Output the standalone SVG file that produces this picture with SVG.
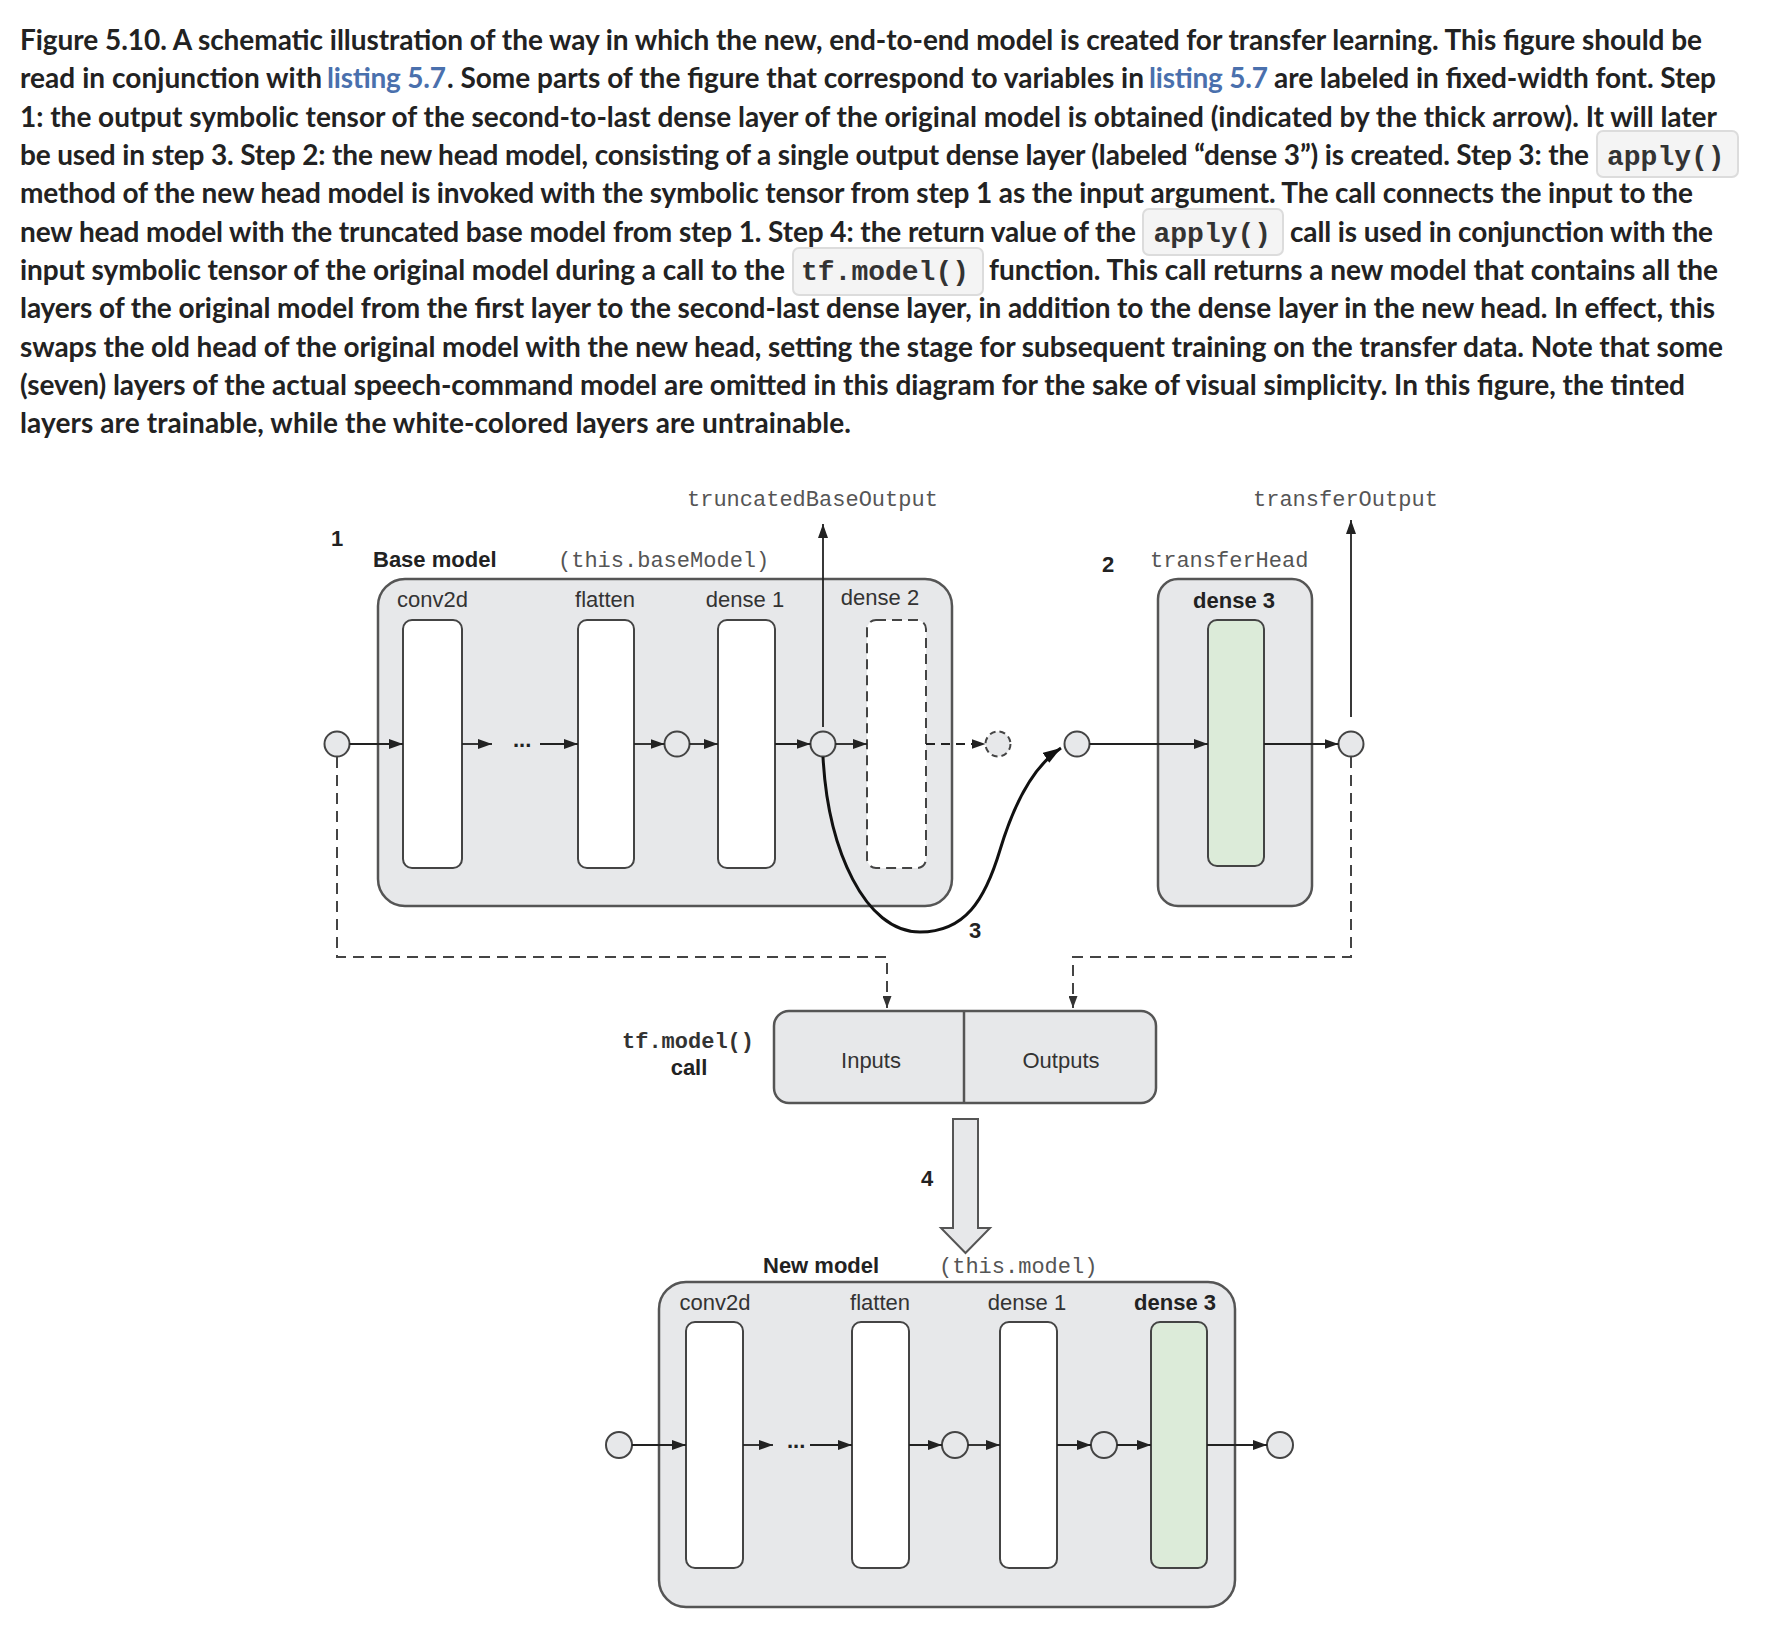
<svg xmlns="http://www.w3.org/2000/svg" width="1766" height="1642" viewBox="0 0 1766 1642">
<style>
.cap{font-family:Lato,"Liberation Sans",sans-serif;font-weight:700;font-size:28px;fill:#222}
.link{fill:#4a70ad}
.code{font-family:"Liberation Mono","Courier New",monospace;font-weight:700;font-size:28px;fill:#333}
.codebox{fill:#f4f4f4;stroke:#dcdcdc;stroke-width:2}
.lbl{font-family:"Liberation Sans",Arial,sans-serif;font-size:22px;fill:#333}
.bold{font-family:"Liberation Sans",Arial,sans-serif;font-size:22px;font-weight:700;fill:#222}
.mono{font-family:"Liberation Mono","Courier New",monospace;font-size:22px;fill:#555}
.monob{font-family:"Liberation Mono","Courier New",monospace;font-size:22px;font-weight:700;fill:#333}
.box{fill:#e7e8ea;stroke:#555;stroke-width:2.5}
.layer{fill:#fff;stroke:#444;stroke-width:2}
.green{fill:#dcebd9;stroke:#444;stroke-width:2}
.node{fill:#e7e8ea;stroke:#444;stroke-width:2}
.ln{fill:none;stroke:#222;stroke-width:1.8}
.dash{fill:none;stroke:#444;stroke-width:2;stroke-dasharray:11 7}
.thick{fill:none;stroke:#111;stroke-width:3}
</style>
<defs>
<marker id="ah" viewBox="0 0 14 10" refX="14" refY="5" markerWidth="14" markerHeight="10" markerUnits="userSpaceOnUse" orient="auto"><path d="M0,0L14,5L0,10z" fill="#222"/></marker>
<marker id="ahs" viewBox="0 0 12 9" refX="12" refY="4.5" markerWidth="12" markerHeight="9" markerUnits="userSpaceOnUse" orient="auto"><path d="M0,0L12,4.5L0,9z" fill="#333"/></marker>
<marker id="ahb" viewBox="0 0 18 12" refX="18" refY="6" markerWidth="18" markerHeight="12" markerUnits="userSpaceOnUse" orient="auto"><path d="M0,0L18,6L0,12z" fill="#111"/></marker>
</defs>
<rect width="1766" height="1642" fill="#fff"/>

<g id="caption">
<text class="cap" x="20" y="50" textLength="1682" lengthAdjust="spacing">Figure 5.10. A schematic illustration of the way in which the new, end-to-end model is created for transfer learning. This figure should be</text>
<text class="cap" x="20" y="88.3" textLength="302" lengthAdjust="spacing">read in conjunction with</text>
<text class="cap link" x="327" y="88.3" textLength="119" lengthAdjust="spacing">listing 5.7</text>
<text class="cap" x="447" y="88.3" textLength="697" lengthAdjust="spacing">. Some parts of the figure that correspond to variables in</text>
<text class="cap link" x="1149" y="88.3" textLength="119" lengthAdjust="spacing">listing 5.7</text>
<text class="cap" x="1274" y="88.3" textLength="442" lengthAdjust="spacing">are labeled in fixed-width font. Step</text>
<text class="cap" x="20" y="126.7" textLength="1697" lengthAdjust="spacing">1: the output symbolic tensor of the second-to-last dense layer of the original model is obtained (indicated by the thick arrow). It will later</text>
<text class="cap" x="20" y="165" textLength="1569" lengthAdjust="spacing">be used in step 3. Step 2: the new head model, consisting of a single output dense layer (labeled “dense 3”) is created. Step 3: the</text>
<rect class="codebox" x="1597" y="131" width="141" height="46" rx="6"/>
<text class="code" x="1607" y="165">apply()</text>
<text class="cap" x="20" y="203.3" textLength="1673" lengthAdjust="spacing">method of the new head model is invoked with the symbolic tensor from step 1 as the input argument. The call connects the input to the</text>
<text class="cap" x="20" y="241.7" textLength="1116" lengthAdjust="spacing">new head model with the truncated base model from step 1. Step 4: the return value of the</text>
<rect class="codebox" x="1143" y="209" width="140" height="46" rx="6"/>
<text class="code" x="1153.5" y="241.7">apply()</text>
<text class="cap" x="1290" y="241.7" textLength="423" lengthAdjust="spacing">call is used in conjunction with the</text>
<text class="cap" x="20" y="280" textLength="765" lengthAdjust="spacing">input symbolic tensor of the original model during a call to the</text>
<rect class="codebox" x="793" y="248" width="190" height="47" rx="6"/>
<text class="code" x="801" y="280">tf.model()</text>
<text class="cap" x="989" y="280" textLength="729" lengthAdjust="spacing">function. This call returns a new model that contains all the</text>
<text class="cap" x="20" y="318.3" textLength="1695" lengthAdjust="spacing">layers of the original model from the first layer to the second-last dense layer, in addition to the dense layer in the new head. In effect, this</text>
<text class="cap" x="20" y="356.7" textLength="1703" lengthAdjust="spacing">swaps the old head of the original model with the new head, setting the stage for subsequent training on the transfer data. Note that some</text>
<text class="cap" x="20" y="395" textLength="1665" lengthAdjust="spacing">(seven) layers of the actual speech-command model are omitted in this diagram for the sake of visual simplicity. In this figure, the tinted</text>
<text class="cap" x="20" y="433.3" textLength="831" lengthAdjust="spacing">layers are trainable, while the white-colored layers are untrainable.</text>
</g>

<g id="base-model">
<rect class="box" x="378" y="579" width="574" height="327" rx="27"/>
<text class="bold" x="337" y="546" text-anchor="middle">1</text>
<text class="bold" x="373" y="567">Base model</text>
<text class="mono" x="558" y="567">(this.baseModel)</text>
</g>
<g id="base-conv2d">
<text class="lbl" x="432.5" y="607" text-anchor="middle">conv2d</text>
<rect class="layer" x="403" y="620" width="59" height="248" rx="9"/>
</g>
<g id="base-flatten">
<text class="lbl" x="605" y="607" text-anchor="middle">flatten</text>
<rect class="layer" x="578" y="620" width="56" height="248" rx="9"/>
</g>
<g id="base-dense1">
<text class="lbl" x="745" y="607" text-anchor="middle">dense 1</text>
<rect class="layer" x="718" y="620" width="57" height="248" rx="9"/>
</g>
<g id="base-dense2">
<text class="lbl" x="880" y="605" text-anchor="middle">dense 2</text>
<rect class="layer" x="867" y="620" width="59" height="248" rx="9" stroke-dasharray="10 6"/>
</g>

<g id="transfer-head">
<rect class="box" x="1158" y="579" width="154" height="327" rx="20"/>
<text class="bold" x="1108" y="572" text-anchor="middle">2</text>
<text class="mono" x="1150" y="567">transferHead</text>
<text class="bold" x="1234" y="608" text-anchor="middle">dense 3</text>
<rect class="green" x="1208" y="620" width="56" height="246" rx="9"/>
</g>

<g id="tensors-top">
<circle class="node" cx="337" cy="744" r="12.5"/>
<circle class="node" cx="677" cy="744" r="12.5"/>
<circle class="node" cx="823" cy="744" r="12.5"/>
<circle class="node" cx="998" cy="744" r="12.5" stroke-dasharray="6 4"/>
<circle class="node" cx="1077" cy="744" r="12.5"/>
<circle class="node" cx="1351" cy="744" r="12.5"/>
<text class="mono" x="687" y="506">truncatedBaseOutput</text>
<text class="mono" x="1253" y="506">transferOutput</text>
</g>

<g id="tf-model-call">
<text class="monob" x="688" y="1048" text-anchor="middle">tf.model()</text>
<text class="bold" x="689" y="1075" text-anchor="middle">call</text>
<rect class="box" x="774" y="1011" width="382" height="92" rx="15"/>
<line x1="964" y1="1011" x2="964" y2="1103" stroke="#555" stroke-width="2.5"/>
<text class="lbl" x="871" y="1068" text-anchor="middle">Inputs</text>
<text class="lbl" x="1061" y="1068" text-anchor="middle">Outputs</text>
</g>

<g id="step4-arrow">
<polygon points="953,1119 978,1119 978,1228 990,1228 965.5,1253 941,1228 953,1228" fill="#e7e8ea" stroke="#555" stroke-width="2"/>
<text class="bold" x="927" y="1186" text-anchor="middle">4</text>
</g>

<g id="new-model">
<text class="bold" x="763" y="1273">New model</text>
<text class="mono" x="939" y="1273">(this.model)</text>
<rect class="box" x="659" y="1282" width="576" height="325" rx="27"/>
</g>
<g id="new-conv2d">
<text class="lbl" x="715" y="1310" text-anchor="middle">conv2d</text>
<rect class="layer" x="686" y="1322" width="57" height="246" rx="9"/>
</g>
<g id="new-flatten">
<text class="lbl" x="880" y="1310" text-anchor="middle">flatten</text>
<rect class="layer" x="852" y="1322" width="57" height="246" rx="9"/>
</g>
<g id="new-dense1">
<text class="lbl" x="1027" y="1310" text-anchor="middle">dense 1</text>
<rect class="layer" x="1000" y="1322" width="57" height="246" rx="9"/>
</g>
<g id="new-dense3">
<text class="bold" x="1175" y="1310" text-anchor="middle">dense 3</text>
<rect class="green" x="1151" y="1322" width="56" height="246" rx="9"/>
</g>
<g id="tensors-bottom">
<circle class="node" cx="619" cy="1445" r="13"/>
<circle class="node" cx="955" cy="1445" r="13"/>
<circle class="node" cx="1104" cy="1445" r="13"/>
<circle class="node" cx="1280" cy="1445" r="13"/>
</g>

<g id="connectors">
<line class="ln" x1="349.5" y1="744" x2="403" y2="744" marker-end="url(#ah)"/>
<line class="ln" x1="462" y1="744" x2="492" y2="744" marker-end="url(#ah)"/>
<text class="bold" x="513" y="747" font-size="17">...</text>
<line class="ln" x1="540" y1="744" x2="578" y2="744" marker-end="url(#ah)"/>
<line class="ln" x1="634" y1="744" x2="664.5" y2="744" marker-end="url(#ah)"/>
<line class="ln" x1="689.5" y1="744" x2="718" y2="744" marker-end="url(#ah)"/>
<line class="ln" x1="775" y1="744" x2="810.5" y2="744" marker-end="url(#ah)"/>
<line class="ln" x1="835.5" y1="744" x2="867" y2="744" marker-end="url(#ah)"/>
<line class="ln" x1="926" y1="744" x2="985.5" y2="744" stroke-dasharray="9 6" marker-end="url(#ah)"/>
<line class="ln" x1="823" y1="727" x2="823" y2="524" marker-end="url(#ah)"/>
<line class="ln" x1="1089.5" y1="744" x2="1208" y2="744" marker-end="url(#ah)"/>
<line class="ln" x1="1264" y1="744" x2="1338.5" y2="744" marker-end="url(#ah)"/>
<line class="ln" x1="1351" y1="717" x2="1351" y2="520" marker-end="url(#ah)"/>
<path class="thick" d="M823,757 C828,850 865,932 920,932 C965,932 985,900 1000,850 C1015,800 1035,765 1061,748" marker-end="url(#ahb)"/>
<text class="bold" x="975" y="938" text-anchor="middle">3</text>
<path class="dash" d="M337,757 V957 H887 V1008" marker-end="url(#ahs)"/>
<path class="dash" d="M1351,757 V957 H1073 V1008" marker-end="url(#ahs)"/>
<line class="ln" x1="632" y1="1445" x2="686" y2="1445" marker-end="url(#ah)"/>
<line class="ln" x1="743" y1="1445" x2="773" y2="1445" marker-end="url(#ah)"/>
<text class="bold" x="787" y="1448" font-size="17">...</text>
<line class="ln" x1="810" y1="1445" x2="852" y2="1445" marker-end="url(#ah)"/>
<line class="ln" x1="909" y1="1445" x2="942" y2="1445" marker-end="url(#ah)"/>
<line class="ln" x1="968" y1="1445" x2="1000" y2="1445" marker-end="url(#ah)"/>
<line class="ln" x1="1057" y1="1445" x2="1091" y2="1445" marker-end="url(#ah)"/>
<line class="ln" x1="1117" y1="1445" x2="1151" y2="1445" marker-end="url(#ah)"/>
<line class="ln" x1="1207" y1="1445" x2="1267" y2="1445" marker-end="url(#ah)"/>
</g>
</svg>
